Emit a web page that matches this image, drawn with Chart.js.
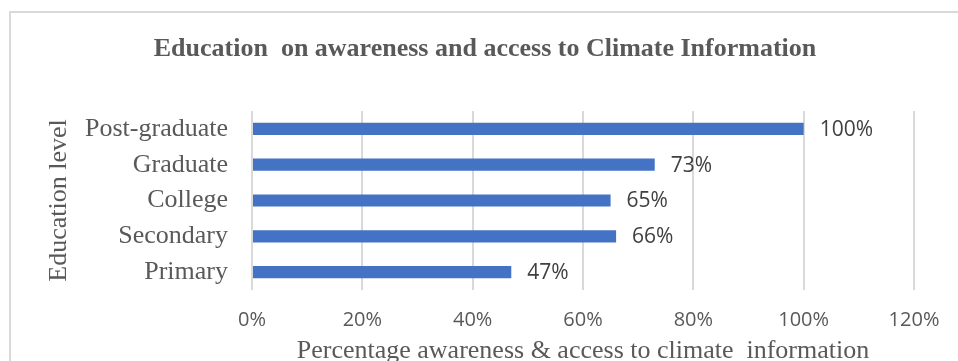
<!DOCTYPE html>
<html>
<head>
<meta charset="utf-8">
<script src="https://cdn.jsdelivr.net/npm/chart.js@4/dist/chart.umd.min.js"></script>
<style>
  html, body { margin: 0; padding: 0; background: #ffffff; }
  #wrap { width: 958px; height: 361px; overflow: hidden; }
  canvas { display: block; }
</style>
</head>
<body>
<div id="wrap"><canvas id="chart" width="958" height="361"></canvas></div>
<script>
// Education levels, top to bottom
const categories = ['Post-graduate', 'Graduate', 'College', 'Secondary', 'Primary'];
// Share aware of / with access to climate information (%)
const awareness = [100, 73, 65, 66, 47];
// Horizontal axis range and step (%)
const xMin = 0;
const xMax = 120;
const xStep = 20;

const chartTitle = 'Education  on awareness and access to Climate Information';
const yTitle = 'Education level';
const xTitle = 'Percentage awareness & access to climate  information';

const SERIF = '"Liberation Serif", "Times New Roman", serif';
const SANS = '"Open Sans", "Liberation Sans", sans-serif';
const GREY = '#595959';

// Outer frame and heading
const framePlugin = {
  id: 'frame',
  beforeDraw(chart) {
    const ctx = chart.ctx;
    ctx.save();
    ctx.fillStyle = '#ffffff';
    ctx.fillRect(0, 0, chart.width, chart.height);
    ctx.strokeStyle = '#d9d9d9';
    ctx.lineWidth = 2;
    ctx.strokeRect(10, 12, chart.width + 20, chart.height + 20);
    ctx.fillStyle = GREY;
    ctx.font = 'bold 26px ' + SERIF;
    ctx.textAlign = 'center';
    ctx.textBaseline = 'middle';
    ctx.fillText(chartTitle, 485, 49);
    ctx.restore();
  }
};

// Value labels to the right of each bar
const valueLabels = {
  id: 'valueLabels',
  afterDatasetsDraw(chart) {
    const ctx = chart.ctx;
    const meta = chart.getDatasetMeta(0);
    const values = chart.data.datasets[0].data;
    ctx.save();
    ctx.fillStyle = '#404040';
    ctx.font = '21px ' + SANS;
    ctx.textAlign = 'left';
    ctx.textBaseline = 'middle';
    meta.data.forEach((bar, i) => {
      ctx.fillText(values[i] + '%', bar.x + 16, bar.y + 1);
    });
    ctx.restore();
  }
};

new Chart(document.getElementById('chart'), {
  type: 'bar',
  data: {
    labels: categories,
    datasets: [{
      data: awareness,
      backgroundColor: '#4472C4',
      borderWidth: 0,
      barPercentage: 0.34,
      categoryPercentage: 1.0
    }]
  },
  options: {
    indexAxis: 'y',
    responsive: false,
    animation: false,
    devicePixelRatio: 1,
    layout: { padding: { top: 111, right: 44, bottom: 0, left: 0 } },
    plugins: {
      legend: { display: false },
      title: { display: false },
      tooltip: { enabled: false }
    },
    scales: {
      x: {
        type: 'linear',
        min: xMin,
        max: xMax,
        afterFit(scale) { scale.height = 71; },
        ticks: {
          stepSize: xStep,
          color: GREY,
          font: { family: SANS, size: 20 },
          padding: 18,
          callback: (v) => v + '%'
        },
        grid: { color: '#d9d9d9', lineWidth: 2, drawTicks: false },
        border: { display: false },
        title: {
          display: true,
          text: xTitle,
          color: GREY,
          font: { family: SERIF, size: 26, lineHeight: 0.75 },
          padding: 0
        }
      },
      y: {
        afterFit(scale) { scale.width = 252; },
        ticks: {
          color: GREY,
          font: { family: SERIF, size: 26 },
          padding: 24
        },
        grid: { display: false, drawTicks: false },
        border: { display: false },
        title: {
          display: true,
          text: yTitle,
          color: GREY,
          font: { family: SERIF, size: 26, lineHeight: 1.2 },
          padding: { top: 44, bottom: 0 }
        }
      }
    }
  },
  plugins: [framePlugin, valueLabels]
});
</script>
</body>
</html>
